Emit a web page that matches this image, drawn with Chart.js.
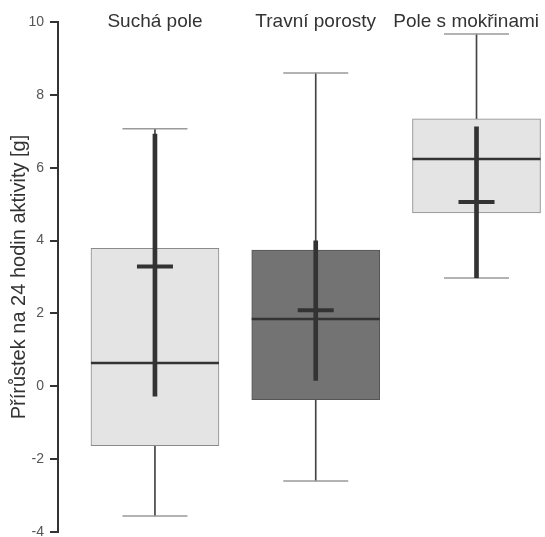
<!DOCTYPE html>
<html>
<head>
<meta charset="utf-8">
<script src="https://cdn.jsdelivr.net/npm/chart.js@4/dist/chart.umd.min.js"></script>
<style>
html,body{margin:0;padding:0;background:#fff;overflow:hidden;}
canvas{display:block;}
</style>
</head>
<body>
<canvas id="c" width="545" height="537" style="width:545px;height:537px;"></canvas>
<script>
const categories = ['Suchá pole', 'Travní porosty', 'Pole s mokřinami'];
const positions = [1, 2, 3];
const q1 = [-1.63, -0.37, 4.76];
const q3 = [3.79, 3.74, 7.34];
const median = [0.64, 1.85, 6.24];
const whiskerLow = [-3.56, -2.60, 2.97];
const whiskerHigh = [7.07, 8.60, 9.67];
const mean = [3.29, 2.09, 5.06];
const ciLow = [-0.27, 0.16, 2.98];
const ciHigh = [6.92, 3.99, 7.12];
const yTitle = 'Přírůstek na 24 hodin aktivity [g]';
const boxFill = ['#e4e4e4', '#737373', '#e4e4e4'];
const boxBorder = ['#8a8a8a', '#555555', '#8a8a8a'];

const FONT = "'Liberation Sans', Arial, sans-serif";

const pts = arr => arr.map((v, i) => ({x: positions[i], y: v}));
const rng = (a, b) => a.map((v, i) => ({x: positions[i], y: [v, b[i]]}));

const topLabels = {
  id: 'topLabels',
  afterDraw(chart) {
    const {ctx, scales} = chart;
    ctx.save();
    ctx.font = '19px ' + FONT;
    ctx.fillStyle = '#333';
    ctx.textAlign = 'center';
    ctx.textBaseline = 'middle';
    const y = scales.y.getPixelForValue(10);
    categories.forEach((c, i) => {
      const w = ctx.measureText(c).width;
      let x = scales.x.getPixelForValue(positions[i]);
      x = Math.min(x, chart.width - 6 - w / 2);
      ctx.fillText(c, x, y);
    });
    ctx.restore();
  }
};

new Chart(document.getElementById('c'), {
  type: 'bar',
  data: {
    datasets: [
      { type: 'line', label: 'mean', data: pts(mean), showLine: false,
        pointStyle: 'line', pointRadius: 18, pointHoverRadius: 18,
        pointBorderWidth: 4, pointBorderColor: '#333', order: 0, clip: false },
      { type: 'bar', label: 'ci', data: rng(ciLow, ciHigh), grouped: false,
        barThickness: 4, backgroundColor: '#333', borderWidth: 0, order: 1 },
      { type: 'line', label: 'median', data: pts(median), showLine: false,
        pointStyle: 'line', pointRadius: 64, pointHoverRadius: 64,
        pointBorderWidth: 2.5, pointBorderColor: '#333', order: 2, clip: false },
      { type: 'bar', label: 'box', data: rng(q1, q3), grouped: false,
        barThickness: 128, backgroundColor: boxFill, borderColor: boxBorder,
        borderWidth: 1, borderSkipped: false, order: 3 },
      { type: 'line', label: 'capHigh', data: pts(whiskerHigh), showLine: false,
        pointStyle: 'line', pointRadius: 32.5, pointHoverRadius: 32.5,
        pointBorderWidth: 1.5, pointBorderColor: '#9a9a9a', order: 4, clip: false },
      { type: 'line', label: 'capLow', data: pts(whiskerLow), showLine: false,
        pointStyle: 'line', pointRadius: 32.5, pointHoverRadius: 32.5,
        pointBorderWidth: 1.5, pointBorderColor: '#9a9a9a', order: 4, clip: false },
      { type: 'bar', label: 'whisker', data: rng(whiskerLow, whiskerHigh), grouped: false,
        barThickness: 1, backgroundColor: '#444', borderWidth: 0, order: 5 }
    ]
  },
  options: {
    responsive: false,
    maintainAspectRatio: false,
    animation: false,
    devicePixelRatio: 1,
    layout: { autoPadding: false, padding: { top: 22, bottom: 5, left: 0, right: 0 } },
    plugins: { legend: { display: false }, tooltip: { enabled: false } },
    scales: {
      x: { type: 'linear', min: 0.397, max: 3.426, display: false, offset: false },
      y: {
        min: -4, max: 10,
        ticks: { stepSize: 2, color: '#555', font: { size: 14, family: FONT }, padding: 6 },
        grid: { display: true, drawOnChartArea: false, drawTicks: true, tickLength: 8, color: '#333', lineWidth: 2 },
        border: { display: true, color: '#333', width: 2 },
        title: { display: true, text: yTitle, color: '#333', font: { size: 20, family: FONT }, padding: { top: 7, bottom: 0 } },
        afterFit(s) { s.width = 58; s.paddingTop = 0; s.paddingBottom = 0; }
      }
    }
  },
  plugins: [topLabels]
});
</script>
</body>
</html>
